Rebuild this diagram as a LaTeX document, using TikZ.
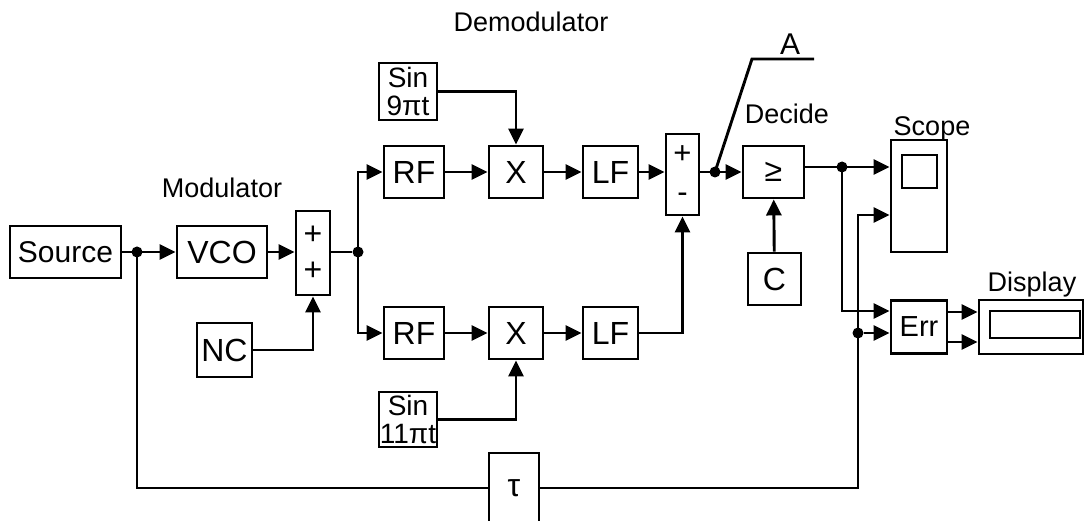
\documentclass[tikz,border=0pt]{standalone}
\usepackage{fontspec}
\setmainfont{Liberation Sans}
\usetikzlibrary{positioning,arrows.meta}

\begin{document}
\begin{tikzpicture}[
    x=1pt, y=-1pt,
    every node/.style={font=\fontsize{32}{36}\selectfont},
    block/.style={draw, line width=2.9pt, inner sep=0pt,
                  minimum width=56pt, minimum height=52pt, align=center},
    inner/.style={draw, line width=2.9pt, inner sep=0pt},
    arrow/.style={-{Triangle[length=16pt,width=15pt]}, line width=2.9pt},
    wire/.style={line width=2.9pt},
    dot/.style={circle, fill, inner sep=0pt, minimum size=11pt},
    label/.style={font=\fontsize{27}{30}\selectfont},
]
\clip (0,0) rectangle (1085,521);

% Modulator
\node[block, minimum width=111pt, font=\fontsize{30}{36}\selectfont] (src) at (65.5,252) {Source};
\node[block, minimum width=90pt] (vco) at (222,252) {VCO};
\node[block, minimum width=34pt, minimum height=84pt,
      font=\fontsize{32}{36}\selectfont] (sumin) at (313,253) {+\\+};
\node[block, minimum width=55pt, minimum height=54pt] (nc) at (224.5,350) {NC};
\node[label] (modlbl) at (222,188) {Modulator};
\node[dot] (jsrc) at (137,252) {};
\node[dot] (jsplit) at (358,252) {};

% Demodulator
\node[block, minimum width=60pt] (rfup) at (414,172) {RF};
\node[block, minimum width=54pt] (mixup) at (516,172) {X};
\node[block, minimum width=55pt] (lfup) at (610.5,172) {LF};
\node[block, minimum width=60pt] (rflow) at (414,333) {RF};
\node[block, minimum width=54pt] (mixlow) at (516,333) {X};
\node[block, minimum width=55pt] (lflow) at (610.5,333) {LF};
\node[block, minimum width=58pt, minimum height=57pt,
      font=\fontsize{28}{28}\selectfont] (sinup) at (408,91.5) {Sin\\9πt};
\node[block, minimum width=58pt, minimum height=55pt,
      font=\fontsize{28}{28}\selectfont] (sinlow) at (408,419.5) {Sin\\11πt};
\node[block, minimum width=33pt, minimum height=81pt,
      font=\fontsize{31}{39}\selectfont] (sumout) at (682.5,174.5) {+\\-};
\node[label] (demodlbl) at (531,22) {Demodulator};

% Decision
\node[dot] (jA) at (715,172) {};
\coordinate (abend) at (752,59);
\coordinate (aend) at (814,59);
\node[font=\fontsize{30}{34}\selectfont] (albl) at (790,44) {A};
\node[block, minimum width=61pt] (dec) at (773.5,172) {≥};
\node[block, minimum width=53pt] (thr) at (774.5,279) {C};
\node[label] (declbl) at (787,114) {Decide};
\node[dot] (jdec) at (842,167) {};

% Scope, Err, Display
\node[block, minimum width=56pt, minimum height=112pt] (scope) at (919,196) {};
\node[inner, minimum width=35pt, minimum height=33pt] (screen) at (919.5,171.5) {};
\node[label] (scopelbl) at (932,129) {Scope};
\node[block, minimum width=56pt, minimum height=53pt, font=\fontsize{29}{32}\selectfont] (err) at (919,327) {Err};
\node[block, minimum width=104pt, minimum height=54pt] (disp) at (1031,327) {};
\node[inner, minimum width=90pt, minimum height=27pt] (dispwin) at (1035,324.5) {};
\node[label] (displbl) at (1032,285) {Display};
\node[dot] (jdel) at (858,333) {};
\node[block, minimum width=50pt, minimum height=70pt] (tau) at (514,488) {τ};

\coordinate (scin1) at ([yshift=29pt]scope.west);
\coordinate (scin2) at ([yshift=-19pt]scope.west);
\coordinate (errin1) at ([yshift=16pt]err.west);
\coordinate (errin2) at ([yshift=-6pt]err.west);
\coordinate (errout1) at ([yshift=15pt]err.east);
\coordinate (errout2) at ([yshift=-15pt]err.east);

% Connectors
\draw[arrow] (src) -- (vco);
\draw[arrow] (vco) -- (vco -| sumin.west);
\draw[wire] (sumin.east |- jsplit) -- (jsplit);
\draw[arrow] (nc) -| (sumin);
\draw[arrow] (jsplit.center) |- (rfup);
\draw[arrow] (jsplit.center) |- (rflow);
\draw[arrow] (rfup) -- (mixup);
\draw[arrow] (mixup) -- (lfup);
\draw[arrow] (lfup) -- (lfup -| sumout.west);
\draw[arrow] (rflow) -- (mixlow);
\draw[arrow] (mixlow) -- (lflow);
\draw[arrow] (sinup) -| (mixup);
\draw[arrow] (sinlow) -| (mixlow);
\draw[arrow] (lflow) -| (sumout);
\draw[arrow] (sumout.east |- dec) -- (dec);
\draw[wire] (jA.center) -- (abend) -- (aend);
\draw[arrow] (thr) -- (dec);
\draw[arrow] (dec.east |- jdec) -- (scin1);
\draw[arrow] (jdec.center) |- (errin1);
\draw[wire] (jsrc.center) |- (tau);
\draw[arrow] (tau) -| (jdel.center) |- (scin2);
\draw[arrow] (jdel) -- (errin2);
\draw[arrow] (errout1) -- (errout1 -| disp.west);
\draw[arrow] (errout2) -- (errout2 -| disp.west);
\end{tikzpicture}
\end{document}
